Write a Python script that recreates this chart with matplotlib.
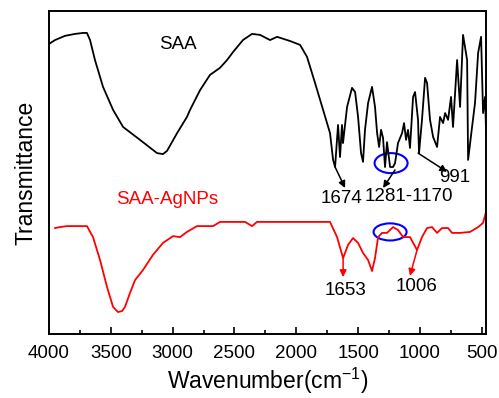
import matplotlib
matplotlib.use("Agg")
from matplotlib import pyplot as plt
from matplotlib.patches import Ellipse
from matplotlib.ticker import MultipleLocator

plt.rcParams['font.family'] = ['Liberation Sans', 'DejaVu Sans']
plt.rcParams['mathtext.default'] = 'regular'

# SAA spectrum (wavenumber, relative transmittance)
saa_wn = [4000, 3951, 3871, 3790, 3725, 3693, 3668, 3628, 3563, 3482, 3401, 3264,
          3126, 3078, 3045, 2964, 2884, 2859, 2778, 2698, 2617, 2560, 2511, 2431,
          2358, 2293, 2212, 2155, 2050, 1969, 1913, 1848, 1783, 1727, 1702, 1686,
          1662, 1646, 1630, 1622, 1589, 1549, 1524, 1500, 1476, 1460, 1444, 1419,
          1387, 1363, 1346, 1330, 1314, 1298, 1282, 1266, 1241, 1217, 1201, 1177,
          1144, 1128, 1112, 1096, 1080, 1055, 1039, 1015, 1007, 983, 958, 942,
          918, 893, 861, 837, 812, 796, 772, 748, 732, 699, 675, 651, 618, 610,
          578, 554, 529, 505, 489, 473, 465]
saa_t = [89.8, 91.0, 92.3, 92.9, 93.2, 93.2, 91.0, 84.8, 76.5, 69.4, 64.1, 60.1,
         56.0, 55.7, 56.7, 62.2, 67.2, 69.4, 75.5, 80.2, 82.4, 84.8, 87.3, 91.0,
         92.9, 92.6, 91.0, 92.0, 90.7, 89.5, 85.8, 77.7, 69.4, 62.2, 53.9, 51.7,
         64.7, 54.8, 64.7, 59.1, 70.3, 76.2, 74.9, 67.2, 56.0, 53.3, 63.2, 71.5,
         76.5, 70.3, 62.2, 57.9, 63.2, 60.7, 51.7, 59.4, 51.7, 51.7, 52.9, 59.1,
         62.2, 65.3, 60.1, 63.2, 57.6, 73.4, 74.9, 66.3, 56.0, 66.3, 79.3, 77.7,
         66.3, 61.0, 57.9, 67.2, 65.3, 68.4, 66.3, 73.4, 64.1, 84.8, 70.3, 92.6,
         84.8, 53.9, 64.1, 71.5, 87.0, 92.0, 68.4, 73.4, 63.2]

# SAA-AgNPs spectrum
ag_wn = [3951, 3911, 3854, 3693, 3644, 3587, 3531, 3482, 3442, 3409, 3385, 3345,
         3304, 3240, 3159, 3078, 2997, 2940, 2884, 2803, 2673, 2617, 2414, 2358,
         2317, 1727, 1670, 1621, 1581, 1541, 1500, 1460, 1419, 1387, 1363, 1338,
         1306, 1266, 1217, 1177, 1136, 1080, 1023, 983, 942, 902, 861, 821, 772,
         740, 675, 594, 529, 489, 465]
ag_t = [32.8, 33.1, 33.4, 33.4, 30.0, 22.9, 14.6, 8.4, 6.8, 7.1, 8.4, 12.7,
        16.7, 19.8, 24.5, 28.2, 30.3, 30.0, 31.6, 33.4, 33.4, 34.7, 34.7, 33.4,
        34.7, 34.7, 30.0, 23.5, 27.6, 29.7, 28.2, 25.1, 22.9, 19.5, 23.5, 30.0,
        31.3, 31.3, 33.1, 32.2, 30.0, 30.0, 26.0, 30.0, 32.8, 33.1, 31.3, 32.8, 32.8,
        31.3, 31.3, 31.6, 33.1, 34.4, 37.8]

fig = plt.figure(figsize=(4.99, 3.98), dpi=100)
ax = fig.add_axes([0.0982, 0.1608, 0.8758, 0.8116])

ax.plot(saa_wn, saa_t, color='black', lw=1.3)
ax.plot(ag_wn, ag_t, color='red', lw=1.3)

ax.set_xlim(4000, 465)
ax.set_ylim(0, 100)
ax.xaxis.set_major_locator(MultipleLocator(500))
ax.xaxis.set_minor_locator(MultipleLocator(250))
ax.set_yticks([])
ax.tick_params(axis='x', which='both', direction='in', labelsize=13.5, pad=8)
ax.tick_params(axis='x', which='major', length=5, width=1.2)
ax.tick_params(axis='x', which='minor', length=3, width=1.2)
for sp in ax.spines.values():
    sp.set_linewidth(1.4)

ax.set_xlabel('Wavenumber(cm$^{-1}$)', fontsize=16.5, labelpad=3)
ax.set_ylabel('Transmittance', fontsize=16.5, labelpad=8)

ax.text(2956, 89.5, 'SAA', fontsize=13.5, ha='center', va='center')
ax.text(3045, 41.5, 'SAA-AgNPs', fontsize=13.5, ha='center', va='center', color='red')

# peak labels: (text, text x, text y, arrow start, arrow tip, colour)
notes = [
    ('1674', 1630, 42.1, (1686, 51.7), (1605, 45.2), 'black'),
    ('1281-1170', 1088, 42.7, (1201, 50.8), (1298, 45.2), 'black'),
    ('991', 715, 48.6, (1015, 56.0), (780, 50.2), 'black'),
    ('1653', 1605, 13.6, (1621, 23.5), (1621, 17.6), 'red'),
    ('1006', 1023, 14.6, (1023, 26.0), (1080, 18.0), 'red'),
]
for label, tx, ty, start, tip, c in notes:
    ax.annotate('', xy=tip, xytext=start,
                arrowprops=dict(arrowstyle='-|>', color=c, lw=1.1,
                                mutation_scale=10, shrinkA=0, shrinkB=0))
    ax.text(tx, ty, label, fontsize=13.5, ha='center', va='center')

ax.add_patch(Ellipse((1233, 52.9), 267, 6.2, fill=False, edgecolor='blue', lw=1.5))
ax.add_patch(Ellipse((1241, 31.6), 267, 5.3, fill=False, edgecolor='blue', lw=1.5))

plt.savefig('out.png', dpi=100)
